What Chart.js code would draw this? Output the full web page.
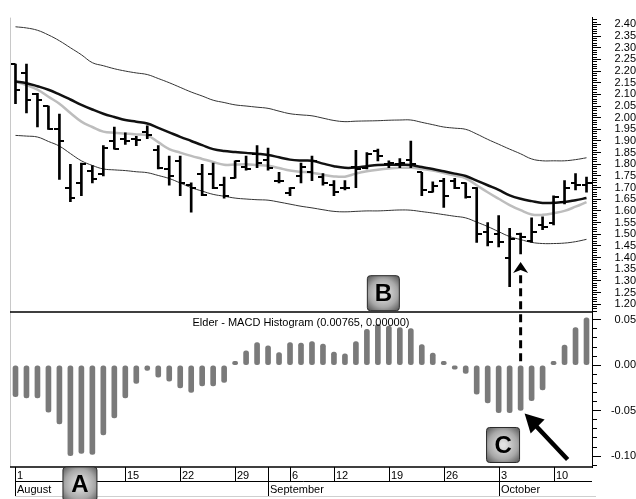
<!DOCTYPE html>
<html>
<head>
<meta charset="utf-8">
<script src="https://cdn.jsdelivr.net/npm/chart.js@4.4.0/dist/chart.umd.min.js"></script>
<style>
  html, body { margin: 0; padding: 0; background: #fff; }
</style>
</head>
<body>
<canvas id="elderChart" width="636" height="499"></canvas>
<script>
// trading days, Aug 1 .. Oct 13
const dayLabels = [1, 2, 3, 4, 5, 8, 9, 10, 11, 12, 15, 16, 17, 18, 19, 22, 23, 24, 25, 26, 29, 30, 31,
    1, 2, 6, 7, 8, 9, 12, 13, 14, 15, 16, 19, 20, 21, 22, 23, 26, 27, 28, 29, 30,
    3, 4, 5, 6, 7, 10, 11, 12, 13];
const weekStarts = [0, 5, 10, 15, 20, 25, 29, 34, 39, 44, 49];
const monthStarts = [0, 23, 44];
const monthNames = ["August", "September", "October"];

const opens = [2.23, 2.19, 2.10, 2.05, 1.95, 1.70, 1.72, 1.77, 1.76, 1.90, 1.91, 1.91, 1.94, 1.86, 1.78, 1.815, 1.71, 1.76, 1.76, 1.71, 1.74, 1.79, 1.845,
    1.82, 1.73, 1.675, 1.75, 1.765, 1.745, 1.71, 1.70, 1.79, 1.785, 1.855, 1.80, 1.80, 1.82, 1.765, 1.68, 1.73, 1.73, 1.72, 1.70, 1.51,
    1.50, 1.40, 1.50, 1.47, 1.54, 1.55, 1.64, 1.72, 1.71];
const highs = [2.23, 2.23, 2.105, 2.05, 2.015, 1.80, 1.805, 1.795, 1.88, 1.96, 1.935, 1.92, 1.965, 1.88, 1.835, 1.835, 1.72, 1.80, 1.805, 1.745, 1.815, 1.835, 1.88,
    1.87, 1.765, 1.70, 1.805, 1.835, 1.76, 1.73, 1.73, 1.86, 1.85, 1.865, 1.815, 1.825, 1.90, 1.765, 1.725, 1.74, 1.74, 1.72, 1.70, 1.55,
    1.58, 1.525, 1.505, 1.57, 1.575, 1.665, 1.73, 1.76, 1.745];
const lows = [2.06, 2.02, 1.96, 1.95, 1.735, 1.64, 1.665, 1.72, 1.75, 1.865, 1.885, 1.88, 1.91, 1.78, 1.71, 1.665, 1.595, 1.665, 1.695, 1.655, 1.74, 1.775, 1.785,
    1.775, 1.72, 1.665, 1.72, 1.73, 1.71, 1.665, 1.69, 1.70, 1.78, 1.815, 1.785, 1.785, 1.785, 1.665, 1.68, 1.615, 1.695, 1.655, 1.465, 1.45,
    1.445, 1.275, 1.415, 1.465, 1.52, 1.54, 1.63, 1.69, 1.68];
const closes = [2.12, 2.075, 2.075, 1.95, 1.90, 1.655, 1.80, 1.735, 1.87, 1.865, 1.90, 1.905, 1.925, 1.785, 1.75, 1.72, 1.70, 1.67, 1.70, 1.665, 1.815, 1.78, 1.805,
    1.785, 1.73, 1.70, 1.79, 1.815, 1.72, 1.68, 1.70, 1.78, 1.845, 1.835, 1.805, 1.805, 1.80, 1.69, 1.705, 1.665, 1.70, 1.66, 1.50, 1.465,
    1.465, 1.48, 1.49, 1.51, 1.53, 1.66, 1.70, 1.71, 1.72];

const slowMA = [2.155, 2.148, 2.135, 2.12, 2.10, 2.078, 2.055, 2.035, 2.017, 2.003, 1.99, 1.983, 1.975, 1.956, 1.937, 1.918, 1.90, 1.882, 1.865, 1.857, 1.853, 1.849, 1.845,
    1.84, 1.83, 1.82, 1.816, 1.815, 1.803, 1.792, 1.785, 1.786, 1.792, 1.797, 1.798, 1.798, 1.797, 1.788, 1.78, 1.77, 1.76, 1.75, 1.73, 1.71,
    1.69, 1.667, 1.652, 1.642, 1.634, 1.635, 1.638, 1.646, 1.655];
const fastMA = [2.155, 2.14, 2.12, 2.09, 2.06, 2.02, 1.983, 1.96, 1.94, 1.935, 1.932, 1.928, 1.924, 1.895, 1.865, 1.85, 1.836, 1.823, 1.81, 1.798, 1.799, 1.80, 1.797,
    1.794, 1.784, 1.773, 1.768, 1.764, 1.755, 1.748, 1.747, 1.76, 1.77, 1.777, 1.782, 1.785, 1.785, 1.78, 1.773, 1.763, 1.752, 1.74, 1.71, 1.68,
    1.652, 1.625, 1.603, 1.585, 1.583, 1.59, 1.60, 1.618, 1.638];
const upperBand = [2.39, 2.385, 2.375, 2.355, 2.33, 2.30, 2.27, 2.236, 2.223, 2.21, 2.20, 2.192, 2.185, 2.168, 2.15, 2.13, 2.11, 2.093, 2.075, 2.065, 2.055, 2.05, 2.045,
    2.04, 2.028, 2.017, 2.012, 2.008, 1.998, 1.988, 1.983, 1.985, 1.986, 1.987, 1.989, 1.99, 1.99, 1.98, 1.97, 1.96, 1.955, 1.95, 1.93, 1.907,
    1.886, 1.865, 1.845, 1.823, 1.815, 1.815, 1.815, 1.82, 1.828];
const lowerBand = [1.924, 1.921, 1.917, 1.898, 1.878, 1.846, 1.815, 1.795, 1.78, 1.776, 1.773, 1.768, 1.764, 1.752, 1.739, 1.72, 1.70, 1.685, 1.671, 1.663, 1.655, 1.651, 1.648,
    1.646, 1.638, 1.629, 1.62, 1.613, 1.605, 1.598, 1.596, 1.598, 1.60, 1.60, 1.602, 1.604, 1.603, 1.597, 1.591, 1.584, 1.577, 1.57, 1.552, 1.533,
    1.511, 1.49, 1.477, 1.465, 1.46, 1.46, 1.462, 1.468, 1.478];

const macdHist = [-0.0346, -0.036, -0.036, -0.0515, -0.0645, -0.0994, -0.097, -0.098, -0.0767, -0.058, -0.036, -0.020, -0.0058, -0.013, -0.0176, -0.0249, -0.030, -0.0227, -0.0227, -0.019, 0.001, 0.0159, 0.0248,
    0.0213, 0.014, 0.0248, 0.0245, 0.026, 0.0234, 0.0144, 0.0126, 0.026, 0.0396, 0.045, 0.0432, 0.0414, 0.0403, 0.0227, 0.0133, 0.002, -0.002, -0.009, -0.0317, -0.0414,
    -0.0522, -0.0522, -0.0497, -0.0389, -0.027, 0.001, 0.0223, 0.0414, 0.0522];

const histTitle = "Elder - MACD Histogram (0.00765, 0.00000)";
const FONT = "'Liberation Sans', Arial, sans-serif";

function tickImage(side) {
    const c = document.createElement("canvas");
    c.width = 10;
    c.height = 2;
    const g = c.getContext("2d");
    g.fillStyle = "#000";
    g.fillRect(side === "left" ? 0 : 5, 0, 5, 2);
    return c;
}

function isMajor(v) {
    return Math.round(v * 100) % 5 === 0;
}

function drawBox(ctx, cx, cy, w, h, letter) {
    const grad = ctx.createRadialGradient(cx, cy, 2, cx, cy, w * 0.75);
    grad.addColorStop(0, "#e2e2e2");
    grad.addColorStop(0.55, "#a8a8a8");
    grad.addColorStop(1, "#4a4a4a");
    ctx.fillStyle = grad;
    ctx.strokeStyle = "#2a2a2a";
    ctx.lineWidth = 1;
    ctx.beginPath();
    ctx.roundRect(cx - w / 2, cy - h / 2, w, h, 3);
    ctx.fill();
    ctx.stroke();
    ctx.fillStyle = "#000";
    ctx.font = "bold 24px " + FONT;
    ctx.textAlign = "center";
    ctx.textBaseline = "middle";
    ctx.fillText(letter, cx, cy + 1);
}

const decor = {
    id: "decor",
    afterDraw(chart) {
        const {ctx, chartArea: a} = chart;
        const x = chart.scales.x, yP = chart.scales.yP, yM = chart.scales.yM;
        ctx.save();

        // left border and pane lines
        ctx.strokeStyle = "#c8c8c8";
        ctx.lineWidth = 1;
        ctx.beginPath();
        ctx.moveTo(a.left + 0.5, a.top);
        ctx.lineTo(a.left + 0.5, a.bottom);
        ctx.stroke();

        ctx.strokeStyle = "#000";
        ctx.lineWidth = 1.5;
        ctx.beginPath();
        ctx.moveTo(a.left, yP.bottom);
        ctx.lineTo(a.right, yP.bottom);
        ctx.moveTo(a.left, a.bottom);
        ctx.lineTo(a.right, a.bottom);
        ctx.stroke();

        // histogram title
        ctx.fillStyle = "#000";
        ctx.font = "11px " + FONT;
        ctx.textAlign = "center";
        ctx.textBaseline = "middle";
        ctx.fillText(histTitle, (a.left + a.right) / 2, yM.top + 11);

        // date rows
        const dayTop = a.bottom, dayBottom = a.bottom + 14, monthBottom = a.bottom + 29;
        ctx.lineWidth = 1;
        ctx.strokeStyle = "#000";
        ctx.beginPath();
        ctx.moveTo(x.getPixelForValue(0), dayBottom + 0.5);
        ctx.lineTo(a.right, dayBottom + 0.5);
        weekStarts.forEach(i => {
            const px = Math.round(x.getPixelForValue(i)) + 0.5;
            ctx.moveTo(px, dayTop);
            ctx.lineTo(px, dayBottom);
        });
        monthStarts.forEach(i => {
            const px = Math.round(x.getPixelForValue(i)) + 0.5;
            ctx.moveTo(px, dayTop);
            ctx.lineTo(px, monthBottom);
        });
        ctx.stroke();
        ctx.strokeStyle = "#cfcfcf";
        ctx.beginPath();
        ctx.moveTo(x.getPixelForValue(0), monthBottom + 0.5);
        ctx.lineTo(a.right + 4, monthBottom + 0.5);
        ctx.stroke();

        ctx.textAlign = "left";
        ctx.textBaseline = "alphabetic";
        ctx.font = "11px " + FONT;
        weekStarts.forEach(i => {
            ctx.fillText(String(dayLabels[i]), Math.round(x.getPixelForValue(i)) + 2, dayBottom - 2);
        });
        monthStarts.forEach((i, k) => {
            ctx.fillText(monthNames[k], Math.round(x.getPixelForValue(i)) + 2, monthBottom - 3);
        });

        // dashed arrow from the histogram low up to the price low
        const ax = x.getPixelForValue(46);
        const tipY = yP.getPixelForValue(lows[46]) + 8;
        ctx.strokeStyle = "#000";
        ctx.lineWidth = 3;
        ctx.setLineDash([8, 5]);
        ctx.beginPath();
        ctx.moveTo(ax, yM.getPixelForValue(0) - 4);
        ctx.lineTo(ax, tipY + 9);
        ctx.stroke();
        ctx.setLineDash([]);
        ctx.fillStyle = "#000";
        ctx.beginPath();
        ctx.moveTo(ax, tipY);
        ctx.lineTo(ax + 7.5, tipY + 11);
        ctx.lineTo(ax, tipY + 8);
        ctx.lineTo(ax - 7.5, tipY + 11);
        ctx.closePath();
        ctx.fill();

        // solid arrow pointing at the histogram low
        const bx = x.getPixelForValue(46) + 4;
        const by = yM.getPixelForValue(-0.053);
        ctx.lineWidth = 4.5;
        ctx.beginPath();
        ctx.moveTo(bx + 10, by + 11);
        ctx.lineTo(bx + 43, by + 46);
        ctx.stroke();
        ctx.beginPath();
        ctx.moveTo(bx, by);
        ctx.lineTo(bx + 20, by + 6);
        ctx.lineTo(bx + 6, by + 20);
        ctx.closePath();
        ctx.fill();

        // labels A, B, C
        drawBox(ctx, x.getPixelForValue(5.87), a.bottom + 17, 34, 34, "A");
        drawBox(ctx, x.getPixelForValue(33.5), yP.getPixelForValue(1.247), 32, 35, "B");
        drawBox(ctx, x.getPixelForValue(44.4), yM.getPixelForValue(-0.0877), 33, 35, "C");

        ctx.restore();
    }
};

const lineStyle = (data, color, width, order) => ({
    type: "line",
    yAxisID: "yP",
    data: data,
    borderColor: color,
    borderWidth: width,
    pointRadius: 0,
    tension: 0.4,
    fill: false,
    order: order
});

new Chart("elderChart", {
    type: "bar",
    data: {
        labels: dayLabels.map(String),
        datasets: [
            {
                type: "line", yAxisID: "yP", data: opens, showLine: false,
                pointStyle: tickImage("left"), pointRadius: 3, order: 1
            },
            {
                type: "line", yAxisID: "yP", data: closes, showLine: false,
                pointStyle: tickImage("right"), pointRadius: 3, order: 1
            },
            {
                type: "bar", yAxisID: "yP", data: lows.map((l, i) => [l, highs[i]]),
                backgroundColor: "#000", barThickness: 2, grouped: false, order: 2
            },
            lineStyle(slowMA, "#111", 2.5, 3),
            lineStyle(fastMA, "#bdbdbd", 2.5, 4),
            lineStyle(upperBand, "#333", 1, 5),
            lineStyle(lowerBand, "#333", 1, 5),
            {
                type: "bar", yAxisID: "yM", data: macdHist,
                backgroundColor: "#7a7a7a", barThickness: 5, borderRadius: 2.5,
                borderSkipped: false, grouped: false, minBarLength: 4, order: 6
            }
        ]
    },
    options: {
        responsive: false,
        animation: false,
        devicePixelRatio: 1,
        layout: {padding: {left: 10, top: 9, right: 0, bottom: 32}},
        plugins: {legend: {display: false}, tooltip: {enabled: false}},
        scales: {
            x: {type: "category", display: false, offset: true},
            yP: {
                position: "right", stack: "panes", stackWeight: 300,
                min: 1.1664, max: 2.4294,
                border: {color: "#000", width: 1},
                grid: {
                    drawOnChartArea: false, color: "#000", tickLength: 9,
                    tickBorderDash: ctx => isMajor(ctx.tick.value) ? [] : [4, 40]
                },
                ticks: {
                    stepSize: 0.01, autoSkip: false, includeBounds: false,
                    crossAlign: "far", padding: 11, color: "#000",
                    font: {family: FONT, size: 11},
                    callback: v => isMajor(v) ? v.toFixed(2) : ""
                },
                afterFit: s => { s.width = 44; }
            },
            yM: {
                position: "right", stack: "panes", stackWeight: 158,
                min: -0.1119, max: 0.0586,
                border: {color: "#000", width: 1},
                grid: {
                    drawOnChartArea: false, color: "#000", tickLength: 9,
                    tickBorderDash: ctx => isMajor(ctx.tick.value) ? [] : [4, 40]
                },
                ticks: {
                    stepSize: 0.01, autoSkip: false, includeBounds: false,
                    crossAlign: "far", padding: 7.5, color: "#000",
                    font: {family: FONT, size: 11},
                    callback: v => isMajor(v) ? v.toFixed(2) : ""
                },
                afterFit: s => { s.width = 44; }
            }
        }
    },
    plugins: [decor]
});
</script>
</body>
</html>
